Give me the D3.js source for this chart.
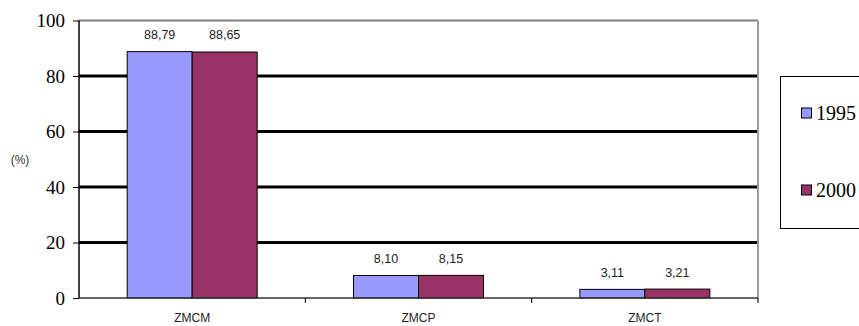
<!DOCTYPE html>
<html>
<head>
<meta charset="utf-8">
<script src="https://cdn.jsdelivr.net/npm/d3@7/dist/d3.min.js"></script>
</head>
<body style="margin:0;padding:0;background:#fff;">
<svg id="chart" width="859" height="326" style="display:block;"></svg>
<script>
// Share of each zone (%), 1995 vs 2000
const categories = ["ZMCM", "ZMCP", "ZMCT"];
const seriesNames = ["1995", "2000"];
const values1995 = [88.79, 8.10, 3.11];
const values2000 = [88.65, 8.15, 3.21];
const yTicks = [0, 20, 40, 60, 80, 100];
const seriesColors = ["#9999FF", "#993366"];

const SERIF = '"Liberation Serif"';
const SANS = '"Liberation Sans"';

const series = [values1995, values2000];
const fmt = v => v.toFixed(2).replace(".", ",");

const svg = d3.select("#chart");
const plot = { left: 79, right: 758, top: 20.5, bottom: 298 };

const x = d3.scaleBand().domain(categories).range([plot.left, plot.right]).paddingInner(0).paddingOuter(0);
const x1 = d3.scaleBand().domain(seriesNames).range([0, 130]);
const y = d3.scaleLinear().domain([0, 100]).range([plot.bottom, plot.top]);

// horizontal gridlines
svg.append("g").selectAll("line")
  .data(yTicks.filter(t => t > 0 && t < 100))
  .join("line")
  .attr("x1", plot.left).attr("x2", plot.right)
  .attr("y1", d => y(d)).attr("y2", d => y(d))
  .attr("stroke", "#000").attr("stroke-width", 3);

// top and right frame
svg.append("line")
  .attr("x1", plot.left).attr("x2", plot.right)
  .attr("y1", y(100)).attr("y2", y(100))
  .attr("stroke", "#808080").attr("stroke-width", 2);
svg.append("line")
  .attr("x1", plot.right).attr("x2", plot.right)
  .attr("y1", y(100)).attr("y2", plot.bottom)
  .attr("stroke", "#9a9a9a").attr("stroke-width", 2);

// bars
const groups = svg.append("g").selectAll("g")
  .data(categories)
  .join("g")
  .attr("transform", c => `translate(${x(c) + x.bandwidth() / 2 - 65},0)`);

groups.selectAll("rect")
  .data((c, i) => seriesNames.map((s, j) => ({ s, v: series[j][i], j })))
  .join("rect")
  .attr("x", d => x1(d.s))
  .attr("y", d => y(d.v))
  .attr("width", x1.bandwidth())
  .attr("height", d => y(0) - y(d.v))
  .attr("fill", d => seriesColors[d.j])
  .attr("stroke", "#000").attr("stroke-width", 1);

groups.selectAll("text")
  .data((c, i) => seriesNames.map((s, j) => ({ s, v: series[j][i], j })))
  .join("text")
  .attr("x", d => x1(d.s) + x1.bandwidth() / 2)
  .attr("y", d => y(d.v) - 12.5)
  .attr("text-anchor", "middle")
  .style("font-family", SANS)
  .style("font-size", "12.5px")
  .attr("fill", "#222")
  .text(d => fmt(d.v));

// y axis
const yAxis = svg.append("g")
  .attr("transform", `translate(${plot.left},0)`)
  .call(d3.axisLeft(y).tickValues(yTicks).tickSize(6).tickPadding(8).tickFormat(d3.format("d")));
yAxis.attr("font-family", null).attr("font-size", null);
yAxis.select(".domain").attr("stroke", "#000").attr("stroke-width", 1.5).attr("d", `M0,${y(100)}V${plot.bottom}`);
yAxis.selectAll(".tick line").attr("stroke", "#000");
yAxis.selectAll(".tick text")
  .style("font-family", SERIF)
  .style("font-size", "19px")
  .attr("fill", "#000");

// x axis
const xAxis = svg.append("g")
  .attr("transform", `translate(0,${plot.bottom})`);
xAxis.append("line")
  .attr("x1", plot.left).attr("x2", plot.right)
  .attr("stroke", "#333").attr("stroke-width", 1.5);
xAxis.selectAll("line.sep")
  .data(categories.slice(1).map(c => x(c)).concat([plot.right]))
  .join("line").attr("class", "sep")
  .attr("x1", d => d).attr("x2", d => d)
  .attr("y1", 0).attr("y2", 5)
  .attr("stroke", "#000");
xAxis.selectAll("text")
  .data(categories)
  .join("text")
  .attr("x", c => x(c) + x.bandwidth() / 2)
  .attr("y", 24)
  .attr("text-anchor", "middle")
  .style("font-family", SANS)
  .style("font-size", "12px")
  .attr("fill", "#222")
  .text(c => c);

// y axis unit
svg.append("text")
  .attr("x", 20).attr("y", 164)
  .attr("text-anchor", "middle")
  .style("font-family", SANS)
  .style("font-size", "12px")
  .attr("fill", "#333")
  .text("(%)");

// legend
const legend = svg.append("g");
legend.append("rect")
  .attr("x", 780.5).attr("y", 76.5).attr("width", 100).attr("height", 152)
  .attr("fill", "#fff").attr("stroke", "#000").attr("stroke-width", 1);
const legendY = [113.5, 190.5];
const items = legend.selectAll("g.item")
  .data(seriesNames)
  .join("g").attr("class", "item")
  .attr("transform", (d, i) => `translate(801,${legendY[i]})`);
items.append("rect")
  .attr("x", 0.5).attr("y", -5.5).attr("width", 10).attr("height", 10)
  .attr("fill", (d, i) => seriesColors[i])
  .attr("stroke", "#000").attr("stroke-width", 1);
items.append("text")
  .attr("x", 15).attr("y", 6.5)
  .style("font-family", SERIF)
  .style("font-size", "20px")
  .attr("fill", "#000")
  .text(d => d);
</script>
</body>
</html>
